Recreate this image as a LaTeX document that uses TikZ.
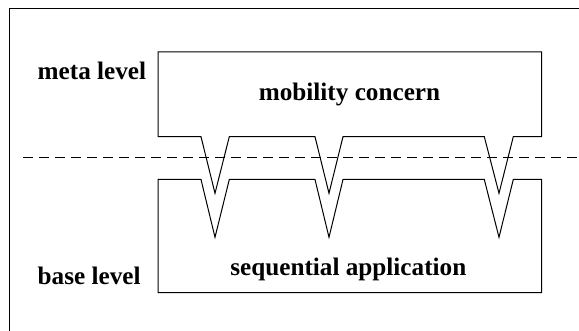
\documentclass[tikz,border=0pt]{standalone}
\usepackage{fontspec}
\setmainfont{Liberation Serif}
\begin{document}
\begin{tikzpicture}[x=1pt,y=-1pt,
  outline/.style={draw=black,line width=1pt,line join=miter},
  levelline/.style={draw=black,line width=1pt,dash pattern=on 10pt off 6pt},
  label/.style={font=\fontsize{25.2}{25.2}\selectfont\bfseries,inner sep=0pt}]
\useasboundingbox (0,0) rectangle (579,331);
% outer frame (open at right and bottom)
\draw[line width=1pt] (9,331) -- (9,9) -- (579,9);
% boundary between the two levels
\coordinate (lvlL) at (23,157.7);
\coordinate (lvlR) at (579,157.7);
\draw[levelline] (lvlL) -- (lvlR);
% meta-level box with three teeth reaching down
\draw[outline] (158,52) -- (541.7,52) -- (541.7,136.7)
  -- (513.3,136.7) -- (499,193.3) -- (484.3,136.7)
  -- (343,136.7) -- (329,193.3) -- (315,136.7)
  -- (229.3,136.7) -- (215,193.3) -- (201,136.7)
  -- (158,136.7) -- cycle;
% base-level box with matching notches
\draw[outline] (158,179.5) -- (201,179.5) -- (215,237.3) -- (229.3,179.5)
  -- (315,179.5) -- (329,237.3) -- (343,179.5)
  -- (484.3,179.5) -- (499,237.3) -- (513.3,179.5)
  -- (541.7,179.5) -- (541.7,292.7) -- (158,292.7) -- cycle;
% labels
\node[label,anchor=base west] (meta) at (37.5,80) {meta level};
\node[label,anchor=base west] (base) at (37.5,285) {base level};
\node[label,anchor=base] (mob) at (349.5,100.7) {mobility concern};
\node[label,anchor=base] (seq) at (348.3,275.5) {sequential application};
\end{tikzpicture}
\end{document}
